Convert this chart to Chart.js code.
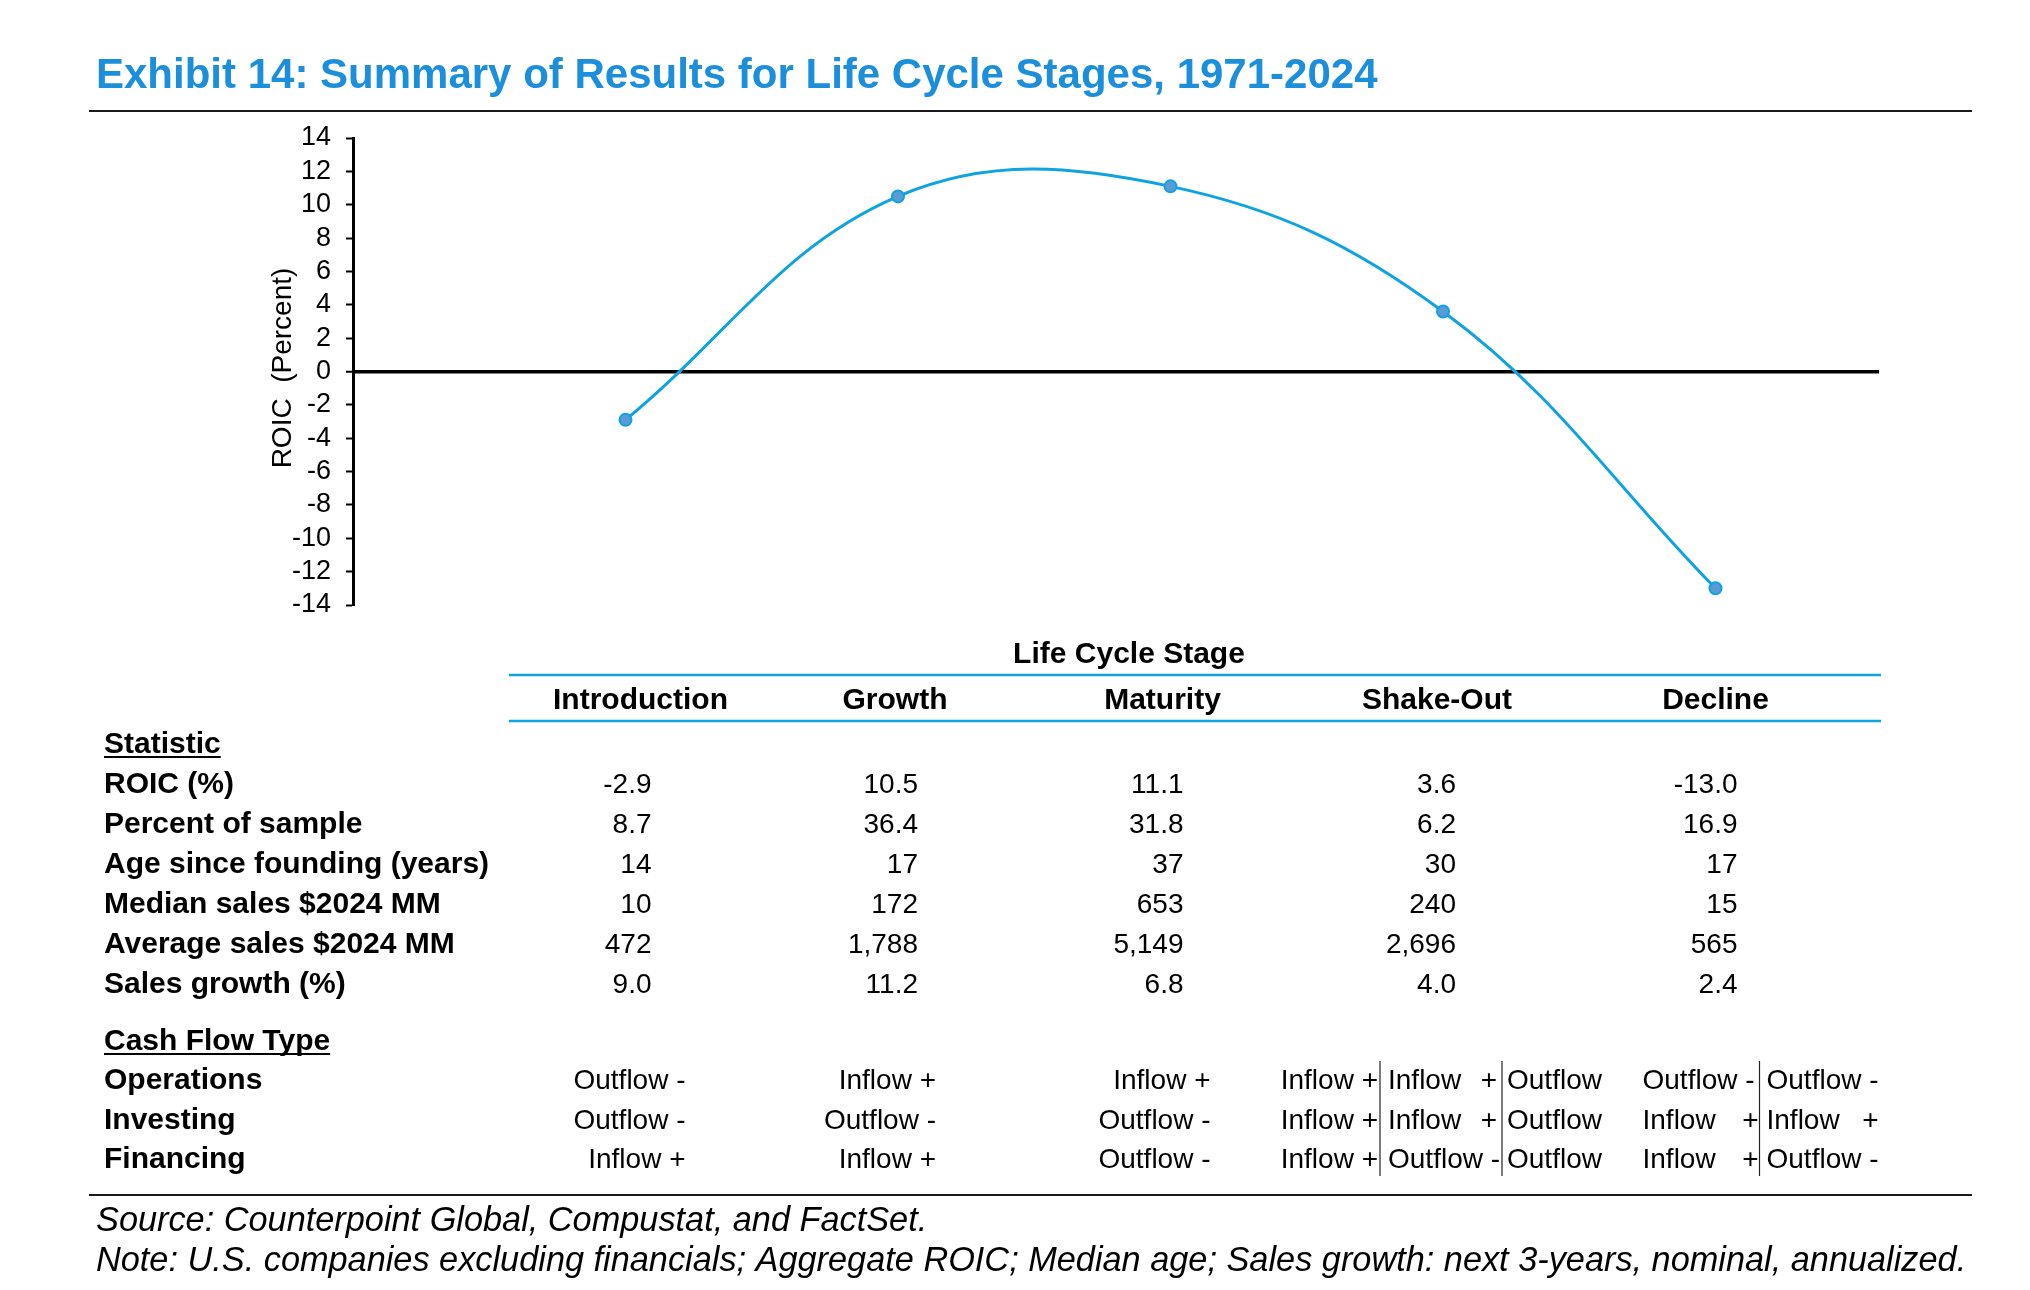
<!DOCTYPE html>
<html>
<head>
<meta charset="utf-8">
<script src="https://cdn.jsdelivr.net/npm/chart.js@4.4.1/dist/chart.umd.min.js"></script>
<style>
  html, body { margin: 0; padding: 0; background: #fff; }
  #wrap { width: 2030px; height: 1290px; position: relative; }
  canvas { display: block; }
</style>
</head>
<body>
<div id="wrap"><canvas id="c" width="2030" height="1290"></canvas></div>
<script>
// ---------- DATA ----------
const stages = ["Introduction", "Growth", "Maturity", "Shake-Out", "Decline"];
const roic = [-2.9, 10.5, 11.1, 3.6, -13.0];
const yTicks = [-14, -12, -10, -8, -6, -4, -2, 0, 2, 4, 6, 8, 10, 12, 14];

const statLabels = ["ROIC (%)", "Percent of sample", "Age since founding (years)",
                    "Median sales $2024 MM", "Average sales $2024 MM", "Sales growth (%)"];
const roicText        = ["-2.9", "10.5", "11.1", "3.6", "-13.0"];
const pctSample       = ["8.7", "36.4", "31.8", "6.2", "16.9"];
const ageFounding     = ["14", "17", "37", "30", "17"];
const medianSales     = ["10", "172", "653", "240", "15"];
const averageSales    = ["472", "1,788", "5,149", "2,696", "565"];
const salesGrowth     = ["9.0", "11.2", "6.8", "4.0", "2.4"];

const cashLabels   = ["Operations", "Investing", "Financing"];
const cashIntro    = ["Outflow -", "Outflow -", "Inflow +"];
const cashGrowth   = ["Inflow +", "Outflow -", "Inflow +"];
const cashMaturity = ["Inflow +", "Outflow -", "Outflow -"];
const cashShakeOut = [["Inflow +", "Inflow +", "Outflow"],
                      ["Inflow +", "Inflow +", "Outflow"],
                      ["Inflow +", "Outflow -", "Outflow"]];
const cashDecline  = [["Outflow -", "Outflow -"],
                      ["Inflow +", "Inflow +"],
                      ["Inflow +", "Outflow -"]];

const titleText = "Exhibit 14: Summary of Results for Life Cycle Stages, 1971-2024";
const yTitle = "ROIC  (Percent)";
const tableTitle = "Life Cycle Stage";
const sourceText = "Source: Counterpoint Global, Compustat, and FactSet.";
const noteText = "Note: U.S. companies excluding financials; Aggregate ROIC; Median age; Sales growth: next 3-years, nominal, annualized.";

// ---------- STYLE ----------
const FONT = "'Liberation Sans', Arial, Helvetica, sans-serif";
const BLUE_TITLE = "#1B8FDB";
const BLUE_LINE = "#0FA3E2";
const POINT_FILL = "#5B9BD5";

const statRows = [roicText, pctSample, ageFounding, medianSales, averageSales, salesGrowth];

const tablePlugin = {
  id: 'tablePlugin',
  afterDraw(chart) {
    const ctx = chart.ctx;
    const xs = chart.scales.x;
    const px = stages.map((s, i) => xs.getPixelForValue(i + 1));
    ctx.save();
    ctx.textBaseline = 'alphabetic';

    // Title
    ctx.fillStyle = BLUE_TITLE;
    ctx.font = `bold 42px ${FONT}`;
    ctx.textAlign = 'left';
    ctx.fillText(titleText, 96, 88);

    // Rules
    ctx.strokeStyle = '#1a1a1a';
    ctx.lineWidth = 2;
    ctx.beginPath(); ctx.moveTo(89, 111); ctx.lineTo(1972, 111); ctx.stroke();
    ctx.beginPath(); ctx.moveTo(89, 1195); ctx.lineTo(1972, 1195); ctx.stroke();

    // Y axis title
    ctx.fillStyle = '#000';
    ctx.save();
    ctx.translate(291, 368);
    ctx.rotate(-Math.PI / 2);
    ctx.font = `28px ${FONT}`;
    ctx.textAlign = 'center';
    ctx.fillText(yTitle, 0, 0);
    ctx.restore();

    // Table header
    ctx.font = `bold 30px ${FONT}`;
    ctx.textAlign = 'center';
    ctx.fillText(tableTitle, 1129, 663);
    ctx.strokeStyle = BLUE_LINE;
    ctx.lineWidth = 2.5;
    ctx.beginPath(); ctx.moveTo(509, 675); ctx.lineTo(1881, 675); ctx.stroke();
    ctx.beginPath(); ctx.moveTo(509, 721); ctx.lineTo(1881, 721); ctx.stroke();
    const headOff = [15, -3, -8, -6, 0];
    stages.forEach((s, i) => ctx.fillText(s, px[i] + headOff[i], 709));

    // Row labels
    ctx.textAlign = 'left';
    const labelX = 104;
    const underline = (txt, y) => {
      ctx.fillText(txt, labelX, y);
      const w = ctx.measureText(txt).width;
      ctx.strokeStyle = '#000'; ctx.lineWidth = 2;
      ctx.beginPath(); ctx.moveTo(labelX, y + 4); ctx.lineTo(labelX + w, y + 4); ctx.stroke();
    };
    underline("Statistic", 753);
    const statY = [793, 832.5, 872.5, 912.5, 952.5, 992.5];
    statLabels.forEach((l, i) => ctx.fillText(l, labelX, statY[i]));
    underline("Cash Flow Type", 1050);
    const cashY = [1089, 1128.5, 1168];
    cashLabels.forEach((l, i) => ctx.fillText(l, labelX, cashY[i]));

    // Statistic values
    ctx.font = `28px ${FONT}`;
    ctx.textAlign = 'right';
    const numOff = [26, 20, 13, 13, 22];
    statRows.forEach((row, r) => {
      row.forEach((v, i) => ctx.fillText(v, px[i] + numOff[i], statY[r]));
    });

    // Cash flow values - simple columns
    const simple = [cashIntro, cashGrowth, cashMaturity];
    const cashOff = [60, 38, 40];
    simple.forEach((col, i) => {
      col.forEach((v, r) => { ctx.textAlign = 'right'; ctx.fillText(v, px[i] + cashOff[i], cashY[r]); });
    });
    // split cells: '-' text flows naturally from L; '+' is pushed to the right edge R
    const split = (txt, L, R, y) => {
      const parts = txt.split(' ');
      ctx.textAlign = 'left';
      if (parts[1] === '+') {
        ctx.fillText(parts[0], L, y);
        ctx.textAlign = 'right';
        ctx.fillText(parts[1], R, y);
      } else {
        ctx.fillText(txt, L, y);
      }
    };
    const p4 = px[3], p5 = px[4];
    cashShakeOut.forEach((row, r) => {
      ctx.textAlign = 'right';
      ctx.fillText(row[0], p4 - 65, cashY[r]);
      split(row[1], p4 - 55, p4 + 54, cashY[r]);
      split(row[2], p4 + 64, p4 + 180, cashY[r]);
    });
    cashDecline.forEach((row, r) => {
      split(row[0], p5 - 73, p5 + 43, cashY[r]);
      split(row[1], p5 + 51, p5 + 163, cashY[r]);
    });
    // vertical separators
    ctx.strokeStyle = '#222'; ctx.lineWidth = 1.2;
    [p4 - 63, p4 + 59, p5 + 44].forEach(x => {
      ctx.beginPath(); ctx.moveTo(x, 1061); ctx.lineTo(x, 1176); ctx.stroke();
    });

    // Footer
    ctx.font = `italic 34.3px ${FONT}`;
    ctx.textAlign = 'left';
    ctx.fillStyle = '#000';
    ctx.fillText(sourceText, 96, 1231);
    ctx.fillText(noteText, 96, 1271);
    ctx.restore();
  }
};

new Chart(document.getElementById('c'), {
  type: 'line',
  data: {
    datasets: [{
      data: roic.map((v, i) => ({ x: i + 1, y: v })),
      borderColor: BLUE_LINE,
      borderWidth: 3,
      tension: 0.38,
      pointRadius: 6,
      pointBorderWidth: 2,
      pointBackgroundColor: POINT_FILL,
      pointBorderColor: BLUE_LINE,
      fill: false
    }]
  },
  options: {
    responsive: false,
    devicePixelRatio: 1,
    animation: false,
    events: [],
    layout: { padding: { left: 250, top: 138, right: 151, bottom: 685 } },
    plugins: { legend: { display: false }, tooltip: { enabled: false } },
    scales: {
      x: { type: 'linear', min: 0, max: 5.6, display: false },
      y: {
        type: 'linear', min: -14, max: 14,
        afterFit: s => { s.width = 103; },
        afterBuildTicks: s => { s.ticks = yTicks.map(v => ({ value: v })); },
        ticks: { color: '#000', font: { size: 27, family: FONT }, padding: 15, autoSkip: false },
        grid: {
          drawOnChartArea: true,
          drawTicks: true,
          tickLength: 7,
          tickColor: '#000',
          tickWidth: 2,
          color: c => (c.tick && c.tick.value === 0) ? '#000' : 'rgba(0,0,0,0)',
          lineWidth: c => (c.tick && c.tick.value === 0) ? 3.5 : 1
        },
        border: { display: true, color: '#000', width: 3 }
      }
    }
  },
  plugins: [tablePlugin]
});
</script>
</body>
</html>
